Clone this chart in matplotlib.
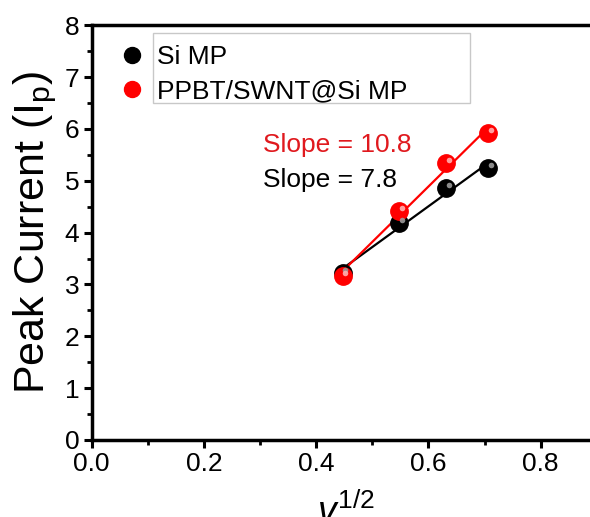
import matplotlib
matplotlib.use("Agg")
import matplotlib.pyplot as plt
import matplotlib.transforms as mtransforms
from matplotlib.lines import Line2D
from matplotlib.patches import Rectangle
from matplotlib.ticker import MultipleLocator
import numpy as np

plt.rcParams["font.family"] = ["Liberation Sans", "DejaVu Sans"]
plt.rcParams["mathtext.fontset"] = "custom"
plt.rcParams["mathtext.rm"] = "Liberation Sans"
plt.rcParams["mathtext.it"] = "Liberation Sans:italic"

# scan rate^(1/2) and peak currents
sqrt_rate = [0.447, 0.548, 0.632, 0.707]
ip_si = [3.22, 4.19, 4.86, 5.24]
ip_ppbt = [3.17, 4.42, 5.34, 5.92]
series = [
    ("Si MP", ip_si, "black", "#9a9a9a"),
    ("PPBT/SWNT@Si MP", ip_ppbt, "#ff0000", "#ffb0b0"),
]
slope_labels = [("Slope = 10.8", "#e0191e", 5.69), ("Slope = 7.8", "black", 5.02)]

fig = plt.figure(figsize=(5.90, 5.17), dpi=100)
ax = fig.add_axes([0.1554, 0.149, 1 - 0.1554, 0.802])

x = np.array(sqrt_rate)
for label, ys, col, hl in series:
    k, b = np.polyfit(x, ys, 1)
    ax.plot(x, k * x + b, color=col, lw=1.6, zorder=2)
for label, ys, col, hl in series:
    ax.plot(x, ys, "o", ms=12.5, color=col, mec=col, zorder=3)
    off = mtransforms.offset_copy(ax.transData, fig=fig, x=1.8, y=2.2, units="points")
    ax.plot(x, ys, "o", ms=4, color=hl, mec="none", alpha=0.9, transform=off, zorder=4)

for txt, col, yy in slope_labels:
    ax.text(0.305, yy, txt, color=col, fontsize=19, va="center", ha="left")

handles = [Line2D([], [], ls="none", marker="o", ms=11.5, color=c, mec=c) for _, _, c, _ in series]
ax.legend(handles, [s[0] for s in series], frameon=False, loc="upper left",
          bbox_to_anchor=(0.066, 0.953), fontsize=19, handlelength=0.6,
          handletextpad=0.62, labelspacing=0.38, borderaxespad=0, borderpad=0)
ax.add_patch(Rectangle((0.123, 0.813), 0.636, 0.168, transform=ax.transAxes,
                       fill=False, ec="#c8c8c8", lw=1.0, zorder=5))

ax.set_xlim(0, 0.888)
ax.set_ylim(0, 8)
ax.xaxis.set_major_locator(MultipleLocator(0.2))
ax.xaxis.set_minor_locator(MultipleLocator(0.1))
ax.yaxis.set_major_locator(MultipleLocator(1))
ax.yaxis.set_minor_locator(MultipleLocator(0.5))
ax.xaxis.set_major_formatter(matplotlib.ticker.FormatStrFormatter("%.1f"))
ax.spines["right"].set_visible(False)
for s in ["left", "bottom", "top"]:
    ax.spines[s].set_linewidth(2.5)
ax.tick_params(which="major", direction="out", length=6, width=2.2, labelsize=19, pad=3)
ax.tick_params(which="minor", direction="out", length=3.5, width=2.0)
ax.tick_params(top=False, right=False)

ax.set_ylabel(r"Peak Current (I$_\mathregular{p}$)", fontsize=31, labelpad=4)
ax.set_xlabel(r"$\mathit{v}^{1/2}$", fontsize=27)
ax.xaxis.set_label_coords(0.51, -0.13, transform=ax.transAxes)
ax.xaxis.label.set_va("top")

fig.savefig("out.png", dpi=100)
